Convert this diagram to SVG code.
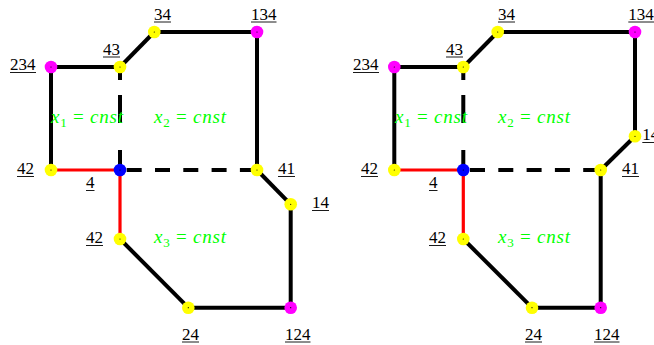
<svg xmlns="http://www.w3.org/2000/svg" width="654" height="345" viewBox="0 0 654 345">
<style>
.e{stroke:#000;stroke-width:4;fill:none;stroke-linecap:butt}
.r{stroke:#f00;stroke-width:3.2;fill:none}
.dh{stroke:#000;stroke-width:4;fill:none;stroke-dasharray:15 13.3;stroke-dashoffset:21.6}
.dv{stroke:#000;stroke-width:4;fill:none;stroke-dasharray:13 15 28 27 20}
.y{fill:#ffff00}
.p{fill:#ff00ff}
.b{fill:#0000ff}
.c{fill:#000}
text{font-family:'Liberation Serif','Times New Roman','DejaVu Serif',serif}
.t{font-size:17px;fill:#000}
.u{stroke:#000;stroke-width:0.9}
.m{font-size:19px;fill:#00ff00}
.s{font-size:13px}
.i{font-style:italic}
</style>
<rect width="654" height="345" fill="#fff"/>
<g id="connectors">
<line class="e" x1="51" y1="67" x2="120" y2="67"/>
<line class="e" x1="120" y1="67" x2="154.3" y2="32"/>
<line class="e" x1="154.3" y1="32" x2="257" y2="32"/>
<line class="e" x1="257" y1="32" x2="257" y2="170"/>
<line class="e" x1="257" y1="170" x2="290.7" y2="204.3"/>
<line class="e" x1="290.7" y1="204.3" x2="290.7" y2="307.7"/>
<line class="e" x1="290.7" y1="307.7" x2="188.3" y2="307.7"/>
<line class="e" x1="188.3" y1="307.7" x2="120" y2="239"/>
<line class="e" x1="51" y1="170" x2="51" y2="67"/>
<line class="r" x1="120" y1="239" x2="120" y2="170"/>
<line class="r" x1="120" y1="170" x2="51" y2="170"/>
<line class="dv" x1="120" y1="67" x2="120" y2="170"/>
<line class="dh" x1="120" y1="170" x2="257" y2="170"/>
<line class="e" x1="394.3" y1="67" x2="463.3" y2="67"/>
<line class="e" x1="463.3" y1="67" x2="497.7" y2="32"/>
<line class="e" x1="497.7" y1="32" x2="635" y2="32"/>
<line class="e" x1="635" y1="32" x2="635" y2="136.3"/>
<line class="e" x1="635" y1="136.3" x2="600.7" y2="170"/>
<line class="e" x1="600.7" y1="170" x2="600.7" y2="307.7"/>
<line class="e" x1="600.7" y1="307.7" x2="532" y2="307.7"/>
<line class="e" x1="532" y1="307.7" x2="463.3" y2="239"/>
<line class="e" x1="394.3" y1="170" x2="394.3" y2="67"/>
<line class="r" x1="463.3" y1="239" x2="463.3" y2="170"/>
<line class="r" x1="463.3" y1="170" x2="394.3" y2="170"/>
<line class="dv" x1="463.3" y1="67" x2="463.3" y2="170"/>
<line class="dh" x1="463.3" y1="170" x2="600.7" y2="170"/>
</g>
<g id="labels-math">
<text class="m" x="51" y="123" textLength="72" lengthAdjust="spacing"><tspan class="i">x</tspan><tspan class="s" dy="3.5">1</tspan><tspan dy="-3.5"> = </tspan><tspan class="i">cnst</tspan></text>
<text class="m" x="154" y="123" textLength="72" lengthAdjust="spacing"><tspan class="i">x</tspan><tspan class="s" dy="3.5">2</tspan><tspan dy="-3.5"> = </tspan><tspan class="i">cnst</tspan></text>
<text class="m" x="154" y="243" textLength="72" lengthAdjust="spacing"><tspan class="i">x</tspan><tspan class="s" dy="3.5">3</tspan><tspan dy="-3.5"> = </tspan><tspan class="i">cnst</tspan></text>
<text class="m" x="395" y="123" textLength="72" lengthAdjust="spacing"><tspan class="i">x</tspan><tspan class="s" dy="3.5">1</tspan><tspan dy="-3.5"> = </tspan><tspan class="i">cnst</tspan></text>
<text class="m" x="498" y="123" textLength="72" lengthAdjust="spacing"><tspan class="i">x</tspan><tspan class="s" dy="3.5">2</tspan><tspan dy="-3.5"> = </tspan><tspan class="i">cnst</tspan></text>
<text class="m" x="498" y="243" textLength="72" lengthAdjust="spacing"><tspan class="i">x</tspan><tspan class="s" dy="3.5">3</tspan><tspan dy="-3.5"> = </tspan><tspan class="i">cnst</tspan></text>
</g>
<g id="L234"><circle class="p" cx="51" cy="67" r="6.3"/><circle class="c" cx="51" cy="67" r="0.6"/><text class="t" x="10" y="70">234</text><line class="u" x1="10" y1="72.5" x2="36" y2="72.5"/></g>
<g id="L43"><circle class="y" cx="120" cy="67" r="6.3"/><circle class="c" cx="120" cy="67" r="0.6"/><text class="t" x="103" y="54.5">43</text><line class="u" x1="103" y1="57" x2="120" y2="57"/></g>
<g id="L34"><circle class="y" cx="154.3" cy="32" r="6.3"/><circle class="c" cx="154.3" cy="32" r="0.6"/><text class="t" x="154" y="19.5">34</text><line class="u" x1="154" y1="22" x2="171" y2="22"/></g>
<g id="L134"><circle class="p" cx="257" cy="32" r="6.3"/><circle class="c" cx="257" cy="32" r="0.6"/><text class="t" x="251" y="19.5">134</text><line class="u" x1="251" y1="22" x2="276.5" y2="22"/></g>
<g id="L42a"><circle class="y" cx="51" cy="170" r="6.3"/><circle class="c" cx="51" cy="170" r="0.6"/><text class="t" x="17" y="174">42</text><line class="u" x1="17" y1="176.5" x2="34" y2="176.5"/></g>
<g id="L4"><circle class="b" cx="120" cy="170" r="6.3"/><circle class="c" cx="120" cy="170" r="0.6"/><text class="t" x="86" y="188">4</text><line class="u" x1="86" y1="190.5" x2="94.5" y2="190.5"/></g>
<g id="L41"><circle class="y" cx="257" cy="170" r="6.3"/><circle class="c" cx="257" cy="170" r="0.6"/><text class="t" x="278" y="174">41</text><line class="u" x1="278" y1="176.5" x2="295" y2="176.5"/></g>
<g id="L14"><circle class="y" cx="290.7" cy="204.3" r="6.3"/><circle class="c" cx="290.7" cy="204.3" r="0.6"/><text class="t" x="312" y="208">14</text><line class="u" x1="312" y1="210.5" x2="329" y2="210.5"/></g>
<g id="L42b"><circle class="y" cx="120" cy="239" r="6.3"/><circle class="c" cx="120" cy="239" r="0.6"/><text class="t" x="86" y="243">42</text><line class="u" x1="86" y1="245.5" x2="103" y2="245.5"/></g>
<g id="L24"><circle class="y" cx="188.3" cy="307.7" r="6.3"/><circle class="c" cx="188.3" cy="307.7" r="0.6"/><text class="t" x="182" y="339.5">24</text><line class="u" x1="182" y1="342" x2="199" y2="342"/></g>
<g id="L124"><circle class="p" cx="290.7" cy="307.7" r="6.3"/><circle class="c" cx="290.7" cy="307.7" r="0.6"/><text class="t" x="285" y="339.5">124</text><line class="u" x1="285" y1="342" x2="310.5" y2="342"/></g>
<g id="R234"><circle class="p" cx="394.3" cy="67" r="6.3"/><circle class="c" cx="394.3" cy="67" r="0.6"/><text class="t" x="353" y="70">234</text><line class="u" x1="353" y1="72.5" x2="379" y2="72.5"/></g>
<g id="R43"><circle class="y" cx="463.3" cy="67" r="6.3"/><circle class="c" cx="463.3" cy="67" r="0.6"/><text class="t" x="446" y="54.5">43</text><line class="u" x1="446" y1="57" x2="463" y2="57"/></g>
<g id="R34"><circle class="y" cx="497.7" cy="32" r="6.3"/><circle class="c" cx="497.7" cy="32" r="0.6"/><text class="t" x="498" y="19.5">34</text><line class="u" x1="498" y1="22" x2="515" y2="22"/></g>
<g id="R134"><circle class="p" cx="635" cy="32" r="6.3"/><circle class="c" cx="635" cy="32" r="0.6"/><text class="t" x="628.3" y="19.5">134</text><line class="u" x1="628.3" y1="22" x2="654" y2="22"/></g>
<g id="R14"><circle class="y" cx="635" cy="136.3" r="6.3"/><circle class="c" cx="635" cy="136.3" r="0.6"/><text class="t" x="642.3" y="140">14</text><line class="u" x1="642.3" y1="142.5" x2="654" y2="142.5"/></g>
<g id="R42a"><circle class="y" cx="394.3" cy="170" r="6.3"/><circle class="c" cx="394.3" cy="170" r="0.6"/><text class="t" x="361" y="174">42</text><line class="u" x1="361" y1="176.5" x2="378" y2="176.5"/></g>
<g id="R4"><circle class="b" cx="463.3" cy="170" r="6.3"/><circle class="c" cx="463.3" cy="170" r="0.6"/><text class="t" x="429" y="188">4</text><line class="u" x1="429" y1="190.5" x2="437.5" y2="190.5"/></g>
<g id="R41"><circle class="y" cx="600.7" cy="170" r="6.3"/><circle class="c" cx="600.7" cy="170" r="0.6"/><text class="t" x="622" y="174">41</text><line class="u" x1="622" y1="176.5" x2="639" y2="176.5"/></g>
<g id="R42b"><circle class="y" cx="463.3" cy="239" r="6.3"/><circle class="c" cx="463.3" cy="239" r="0.6"/><text class="t" x="429" y="243">42</text><line class="u" x1="429" y1="245.5" x2="446" y2="245.5"/></g>
<g id="R24"><circle class="y" cx="532" cy="307.7" r="6.3"/><circle class="c" cx="532" cy="307.7" r="0.6"/><text class="t" x="525" y="339.5">24</text><line class="u" x1="525" y1="342" x2="542" y2="342"/></g>
<g id="R124"><circle class="p" cx="600.7" cy="307.7" r="6.3"/><circle class="c" cx="600.7" cy="307.7" r="0.6"/><text class="t" x="594" y="339.5">124</text><line class="u" x1="594" y1="342" x2="619.5" y2="342"/></g>
</svg>
